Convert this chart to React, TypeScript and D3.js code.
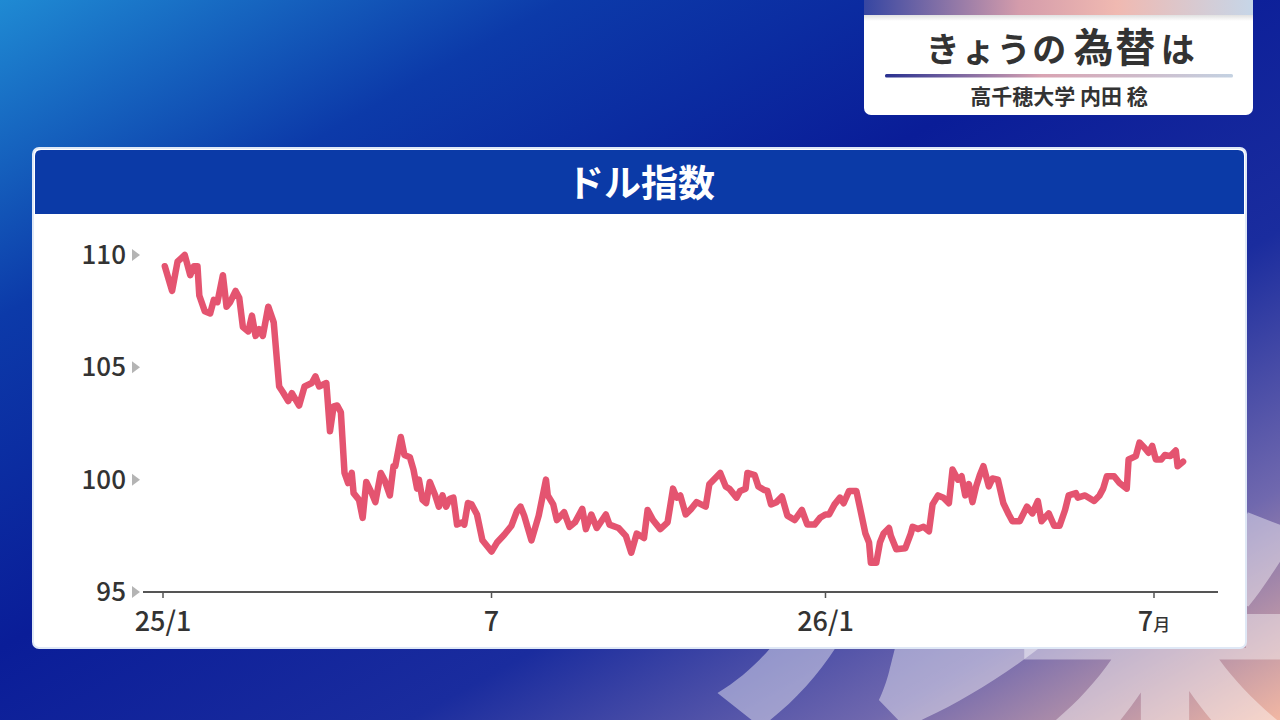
import * as d3 from 'd3';

// ドル指数 readings (date, index level)
const dates = [
  '2025-01-02','2025-01-06','2025-01-09','2025-01-13','2025-01-16','2025-01-18','2025-01-20','2025-01-21','2025-01-24','2025-01-27','2025-01-29','2025-01-31',
  '2025-02-03','2025-02-05','2025-02-07','2025-02-10','2025-02-12','2025-02-14','2025-02-17','2025-02-19','2025-02-21','2025-02-23','2025-02-25','2025-02-28',
  '2025-03-03','2025-03-06','2025-03-08','2025-03-11','2025-03-13','2025-03-17','2025-03-20','2025-03-24','2025-03-26','2025-03-28',
  '2025-04-01','2025-04-03','2025-04-05','2025-04-07','2025-04-09','2025-04-11','2025-04-13','2025-04-15','2025-04-16','2025-04-19','2025-04-21','2025-04-23','2025-04-26','2025-04-28',
  '2025-05-01','2025-05-03','2025-05-06','2025-05-08','2025-05-09','2025-05-12','2025-05-14','2025-05-17','2025-05-19','2025-05-21','2025-05-22','2025-05-24','2025-05-26','2025-05-28','2025-05-31',
  '2025-06-02','2025-06-04','2025-06-06','2025-06-08','2025-06-10','2025-06-12','2025-06-15','2025-06-16','2025-06-18','2025-06-20','2025-06-23','2025-06-26','2025-06-28',
  '2025-07-01','2025-07-04','2025-07-08','2025-07-12','2025-07-15','2025-07-17','2025-07-19','2025-07-23','2025-07-27','2025-07-31',
  '2025-08-01','2025-08-04','2025-08-06','2025-08-10','2025-08-13','2025-08-16','2025-08-20','2025-08-22','2025-08-25','2025-08-28',
  '2025-09-02','2025-09-04','2025-09-09','2025-09-13','2025-09-16','2025-09-19','2025-09-23','2025-09-25','2025-09-28',
  '2025-10-02','2025-10-06','2025-10-09','2025-10-11','2025-10-13','2025-10-16','2025-10-19','2025-10-22','2025-10-27','2025-10-29',
  '2025-11-04','2025-11-07','2025-11-09','2025-11-13','2025-11-15','2025-11-18','2025-11-19','2025-11-23','2025-11-25','2025-11-28','2025-11-30',
  '2025-12-02','2025-12-05','2025-12-08','2025-12-11','2025-12-15','2025-12-19','2025-12-22','2025-12-26','2025-12-29',
  '2026-01-01','2026-01-03','2026-01-06','2026-01-09','2026-01-11','2026-01-14','2026-01-18','2026-01-20','2026-01-23','2026-01-25','2026-01-26','2026-01-29','2026-01-31',
  '2026-02-02','2026-02-05','2026-02-06','2026-02-09','2026-02-14','2026-02-17','2026-02-18','2026-02-21','2026-02-24','2026-02-27',
  '2026-03-01','2026-03-04','2026-03-07','2026-03-10','2026-03-12','2026-03-15','2026-03-17','2026-03-19','2026-03-21','2026-03-23','2026-03-25','2026-03-27','2026-03-29',
  '2026-04-01','2026-04-03','2026-04-06','2026-04-09','2026-04-12','2026-04-14','2026-04-18','2026-04-22','2026-04-25','2026-04-28','2026-04-30',
  '2026-05-04','2026-05-07','2026-05-10','2026-05-13','2026-05-15','2026-05-19','2026-05-20','2026-05-24','2026-05-29',
  '2026-06-01','2026-06-03','2026-06-05','2026-06-09','2026-06-12','2026-06-16','2026-06-17','2026-06-21','2026-06-23','2026-06-26','2026-06-28','2026-06-30',
  '2026-07-02','2026-07-05','2026-07-07','2026-07-10','2026-07-13','2026-07-14','2026-07-17',
];

const values = [
  109.5,108.4,109.7,110.0,109.1,109.5,109.5,108.2,107.5,107.4,108.0,107.9,
  109.1,107.7,107.9,108.4,108.1,106.8,106.6,107.3,106.4,106.7,106.4,107.7,
  107.0,104.15,103.9,103.5,103.85,103.3,104.15,104.3,104.6,104.15,
  104.3,102.15,103.26,103.3,103.0,100.3,99.85,100.3,99.4,99.1,98.3,99.9,99.4,99.0,
  100.3,100.0,99.3,100.6,100.6,101.9,101.1,101.0,100.45,99.6,100.0,99.1,98.96,99.9,99.3,
  98.8,99.3,98.8,99.15,99.2,98.0,98.1,98.0,98.96,98.9,98.45,97.3,97.1,
  96.8,97.2,97.55,97.95,98.6,98.8,98.4,97.3,98.4,100.0,
  99.3,98.9,98.2,98.55,97.9,98.1,98.7,97.8,98.45,97.85,
  98.45,98.0,97.85,97.5,96.75,97.6,97.4,98.65,98.2,
  97.8,98.1,99.6,99.2,99.3,98.45,98.7,99.0,98.8,99.8,
  100.3,99.7,99.6,99.2,99.5,99.6,100.3,100.2,99.7,99.55,99.5,
  98.9,99.0,99.25,98.4,98.2,98.65,98.0,98.0,98.3,
  98.45,98.45,98.9,99.2,98.95,99.5,99.5,98.75,97.6,97.2,96.3,96.3,97.2,
  97.6,97.85,97.5,96.9,96.95,97.6,97.9,97.8,97.9,97.7,
  98.9,99.3,99.2,98.95,100.45,100.0,100.15,99.3,99.8,99.0,99.7,100.2,100.6,
  99.7,100.05,100.0,98.95,98.45,98.15,98.15,98.8,98.5,99.05,98.15,
  98.5,97.95,97.95,98.65,99.3,99.4,99.2,99.3,99.05,
  99.3,99.6,100.15,100.15,99.85,99.6,100.9,101.05,101.65,101.4,101.2,101.5,
  100.9,100.9,101.1,101.05,101.3,100.6,100.8,
];

const yTicks = [95, 100, 105, 110];
const xTickDates = ['2025-01-01', '2025-07-01', '2026-01-01', '2026-07-01'];
const xTickLabels = ['25/1', '7', '26/1', '7'];
const xTickSuffix = ['', '', '', '月'];

const FONT = "'Noto Sans CJK JP', 'Noto Sans', sans-serif";
const parse = d3.timeParse('%Y-%m-%d');

export default function App() {
  const x = d3.scaleTime()
    .domain([parse('2025-01-01')!, parse('2026-07-01')!])
    .range([163, 1154]);
  const y = d3.scaleLinear().domain([95, 110]).range([592, 255]);

  const points = dates.map((d, i) => ({ date: parse(d)!, value: values[i] }));
  const line = d3.line<{ date: Date; value: number }>()
    .x(d => x(d.date))
    .y(d => y(d.value));

  return (
    <div style={{ position: 'fixed', left: 0, top: 0, width: 1280, height: 720, overflow: 'hidden' }}>
      <svg width={1280} height={720} style={{ display: 'block' }} fontFamily={FONT}>
        <defs>
          <linearGradient id="bg" x1="0" y1="0" x2="1" y2="1">
            <stop offset="0" stopColor="#1f8ad3" />
            <stop offset="0.22" stopColor="#0c3aa9" />
            <stop offset="0.45" stopColor="#0a1d98" />
            <stop offset="0.66" stopColor="#1a2c9e" />
            <stop offset="0.84" stopColor="#7068ae" />
            <stop offset="1" stopColor="#f2b7a3" />
          </linearGradient>
          <linearGradient id="stripe" x1="0" y1="0" x2="1" y2="0">
            <stop offset="0" stopColor="#3646a2" />
            <stop offset="0.4" stopColor="#d49cab" />
            <stop offset="0.65" stopColor="#f0b9b1" />
            <stop offset="1" stopColor="#c6d6e8" />
          </linearGradient>
          <linearGradient id="rule" x1="0" y1="0" x2="1" y2="0">
            <stop offset="0" stopColor="#283090" />
            <stop offset="0.45" stopColor="#d9a3b2" />
            <stop offset="1" stopColor="#c4d2e2" />
          </linearGradient>
          <linearGradient id="stripeShade" x1="0" y1="0" x2="0" y2="1">
            <stop offset="0" stopColor="#000" stopOpacity="0.12" />
            <stop offset="1" stopColor="#000" stopOpacity="0" />
          </linearGradient>
          <clipPath id="wmClip">
            <rect x={0} y={648} width={1280} height={72} />
            <rect x={1246} y={0} width={34} height={720} />
          </clipPath>
        </defs>

        {/* background */}
        <rect width={1280} height={720} fill="url(#bg)" />

        {/* faint watermark behind the card */}
        <g fill="#ffffff" fillOpacity={0.42} fontWeight={900} clipPath="url(#wmClip)">
          <text x={705} y={708} fontSize={350} fontStyle="italic">ル</text>
          <text x={1165} y={765} fontSize={310} textAnchor="middle">米</text>
        </g>

        {/* title box */}
        <rect x={864} y={-10} width={389} height={125} rx={7} fill="#ffffff" />
        <rect x={864} y={0} width={389} height={15} fill="url(#stripe)" />
        <rect x={864} y={15} width={389} height={6} fill="url(#stripeShade)" />
        <text x={1061} y={62} textAnchor="middle" fill="#333333" fontWeight={700} letterSpacing={1.5}>
          <tspan fontSize={34}>きょうの</tspan>
          <tspan fontSize={40} dx={6}>為替</tspan>
          <tspan fontSize={34} dx={4}>は</tspan>
        </text>
        <rect x={885} y={74} width={348} height={3.5} rx={1.5} fill="url(#rule)" />
        <text x={1059} y={104} textAnchor="middle" fill="#333333" fontWeight={700} fontSize={21}>
          高千穂大学 内田 稔
        </text>

        {/* chart card */}
        <rect x={33} y={148} width={1213} height={500} rx={6} fill="#ffffff" stroke="#dfe8f6" strokeWidth={2} />
        <path d="M35,214 V156 Q35,150 41,150 H1238 Q1244,150 1244,156 V214 Z" fill="#0b3aa7" />
        <text x={641} y={197} textAnchor="middle" fill="#ffffff" fontWeight={700} fontSize={37}>
          ドル指数
        </text>

        {/* y axis labels with markers */}
        {yTicks.map(t => (
          <g key={t}>
            <text x={126} y={y(t) + 9} textAnchor="end" fill="#333333" fontSize={26} fontWeight={500}>
              {t}
            </text>
            <path d={`M132,${y(t) - 6} L140,${y(t)} L132,${y(t) + 6} Z`} fill="#b4b4b4" />
          </g>
        ))}

        {/* x axis */}
        <line x1={143} x2={1218} y1={y(95)} y2={y(95)} stroke="#555555" strokeWidth={2} />
        {xTickDates.map((d, i) => {
          const px = x(parse(d)!);
          return (
            <g key={d}>
              <line x1={px} x2={px} y1={y(95)} y2={y(95) + 6} stroke="#555555" strokeWidth={1.5} />
              <text x={px} y={631} textAnchor="middle" fill="#333333" fontSize={27} fontWeight={500}>
                {xTickLabels[i]}
                {xTickSuffix[i] && <tspan fontSize={17}>{xTickSuffix[i]}</tspan>}
              </text>
            </g>
          );
        })}

        {/* series */}
        <path
          d={line(points) ?? ''}
          fill="none"
          stroke="#e34b68"
          strokeWidth={6.5}
          strokeLinejoin="round"
          strokeLinecap="round"
          strokeOpacity={0.95}
        />
      </svg>
    </div>
  );
}
